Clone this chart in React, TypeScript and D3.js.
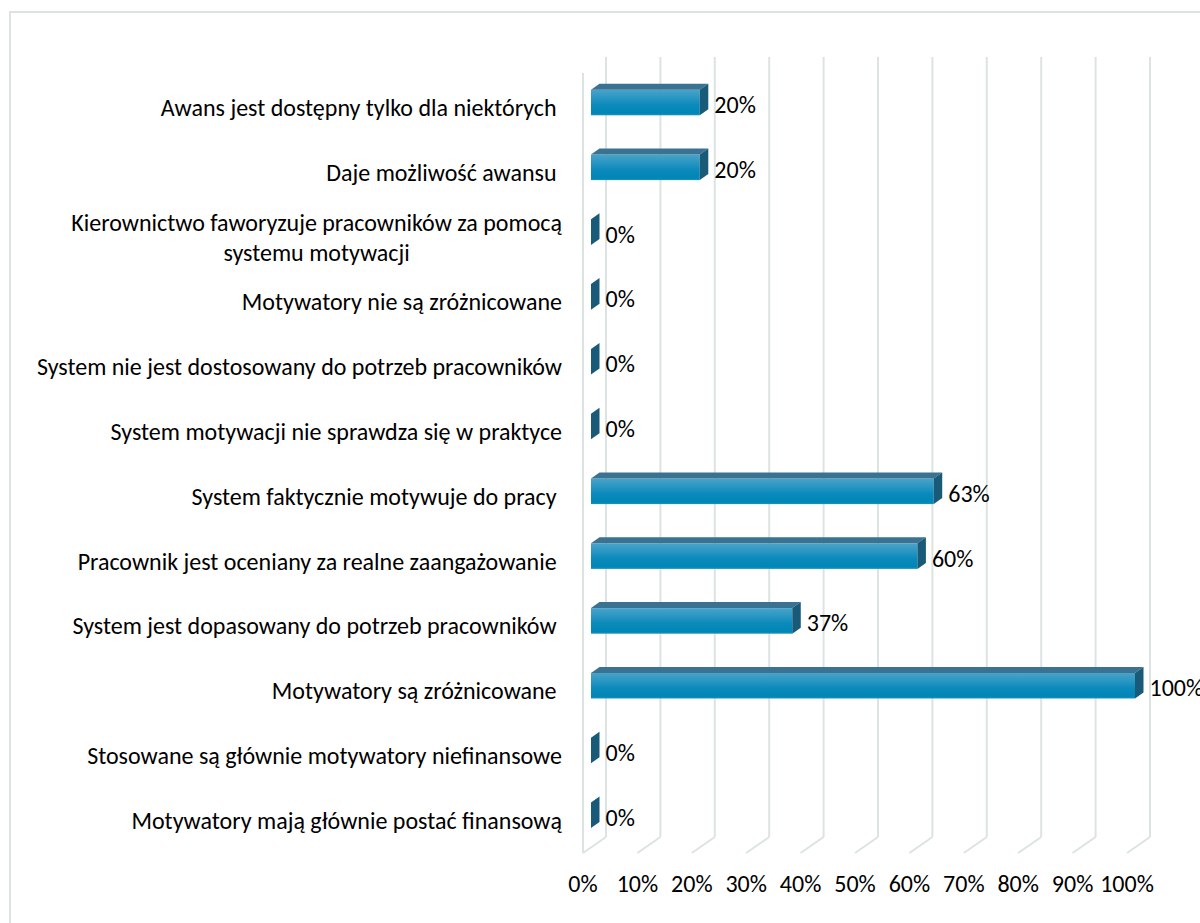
import React, { useEffect, useRef } from "react";
import * as d3 from "d3";

const categories: string[] = [
  "Awans jest dostępny tylko dla niektórych ",
  "Daje możliwość awansu ",
  "Kierownictwo faworyzuje pracowników za pomocą\nsystemu motywacji",
  "Motywatory nie są zróżnicowane",
  "System nie jest dostosowany do potrzeb pracowników",
  "System motywacji nie sprawdza się w praktyce",
  "System faktycznie motywuje do pracy ",
  "Pracownik jest oceniany za realne zaangażowanie ",
  "System jest dopasowany do potrzeb pracowników ",
  "Motywatory są zróżnicowane ",
  "Stosowane są głównie motywatory niefinansowe",
  "Motywatory mają głównie postać finansową",
];
const values: number[] = [20, 20, 0, 0, 0, 0, 63, 60, 37, 100, 0, 0];
const ticks: number[] = [0, 10, 20, 30, 40, 50, 60, 70, 80, 90, 100];

const W = 1200;
const H = 923;
const FONT = "Carlito, Calibri, Lato, 'Open Sans', sans-serif";
const FS = 24;

export default function App() {
  const ref = useRef<SVGSVGElement | null>(null);

  useEffect(() => {
    document.body.style.margin = "0";
    const svg = d3.select(ref.current);
    svg.selectAll("*").remove();

    // geometry
    const floorX = d3.scaleLinear().domain([0, 100]).range([583, 1127]);
    const rowY = d3.scalePoint<string>().domain(categories).range([102.5, 815.3]);
    const wallDx = 23, wallDy = -16;
    const wallTop = 57, floorBackY = 837;
    const barShift = 8;
    const barH = 25.6;
    const bDx = 8.5, bDy = -6;
    const gridColor = "#dbe4e2";

    const defs = svg.append("defs");
    const grad = defs.append("linearGradient").attr("id", "barFront")
      .attr("x1", 0).attr("y1", 0).attr("x2", 0).attr("y2", 1);
    grad.append("stop").attr("offset", "0%").attr("stop-color", "#4aa3c8");
    grad.append("stop").attr("offset", "30%").attr("stop-color", "#2b97c3");
    grad.append("stop").attr("offset", "60%").attr("stop-color", "#0a8abb");
    grad.append("stop").attr("offset", "92%").attr("stop-color", "#0086b6");
    grad.append("stop").attr("offset", "100%").attr("stop-color", "#1b93c0");

    // outer border
    svg.append("rect").attr("x", 10).attr("y", 12).attr("width", W + 20).attr("height", H + 20)
      .attr("fill", "#ffffff").attr("stroke", "#dde3e1").attr("stroke-width", 2);

    // walls gridlines
    const g = svg.append("g").attr("stroke", gridColor).attr("stroke-width", 2).attr("fill", "none");
    g.append("line").attr("x1", floorX(0)).attr("x2", floorX(0))
      .attr("y1", wallTop - wallDy).attr("y2", floorBackY - wallDy);
    ticks.forEach((t) => {
      const bx = floorX(t) + wallDx;
      g.append("line").attr("x1", bx).attr("x2", bx).attr("y1", wallTop).attr("y2", floorBackY);
      g.append("line").attr("x1", bx).attr("y1", floorBackY)
        .attr("x2", floorX(t)).attr("y2", floorBackY - wallDy);
    });

    // bars
    const bars = svg.append("g");
    categories.forEach((c, i) => {
      const v = values[i];
      const cy = rowY(c)!;
      const x0 = floorX(0) + barShift;
      const x1 = floorX(v) + barShift;
      const top = cy - barH / 2;
      const bot = cy + barH / 2;
      if (v > 0) {
        bars.append("rect").attr("x", x0).attr("y", top).attr("width", x1 - x0).attr("height", barH)
          .attr("fill", "url(#barFront)");
        bars.append("polygon")
          .attr("points", [[x0, top], [x0 + bDx, top + bDy], [x1 + bDx, top + bDy], [x1, top]].map((p) => p.join(",")).join(" "))
          .attr("fill", "#3a7392");
      }
      bars.append("polygon")
        .attr("points", [[x1, top], [x1 + bDx, top + bDy], [x1 + bDx, bot + bDy], [x1, bot]].map((p) => p.join(",")).join(" "))
        .attr("fill", "#195a78");

      // value label
      bars.append("text").attr("x", x1 + bDx + 6).attr("y", cy + 2)
        .attr("dominant-baseline", "central")
        .attr("font-family", FONT).attr("font-size", FS).attr("fill", "#000")
        .text(`${Math.round(v)}%`);
    });

    // category labels
    const labels = svg.append("g").attr("font-family", FONT).attr("font-size", FS).attr("fill", "#000");
    const labelX = 562;
    categories.forEach((c) => {
      const cy = rowY(c)! + 5;
      const lines = c.split("\n");
      if (lines.length === 1) {
        labels.append("text").attr("x", labelX).attr("y", cy)
          .attr("text-anchor", "end").attr("dominant-baseline", "central")
          .style("white-space", "pre").text(lines[0]);
      } else {
        const lh = 30;
        const t1 = labels.append("text").attr("x", labelX).attr("y", cy - lh / 2)
          .attr("text-anchor", "end").attr("dominant-baseline", "central")
          .style("white-space", "pre").text(lines[0]);
        const w1 = (t1.node() as SVGTextElement).getComputedTextLength();
        labels.append("text").attr("x", labelX - w1 / 2).attr("y", cy + lh / 2)
          .attr("text-anchor", "middle").attr("dominant-baseline", "central")
          .text(lines[1]);
      }
    });

    // tick labels
    const tl = svg.append("g").attr("font-family", FONT).attr("font-size", FS).attr("fill", "#000");
    ticks.forEach((t) => {
      tl.append("text").attr("x", floorX(t)).attr("y", 883)
        .attr("text-anchor", "middle").attr("dominant-baseline", "central")
        .text(`${t}%`);
    });
  }, []);

  return <svg ref={ref} width={W} height={H} style={{ display: "block" }} />;
}
